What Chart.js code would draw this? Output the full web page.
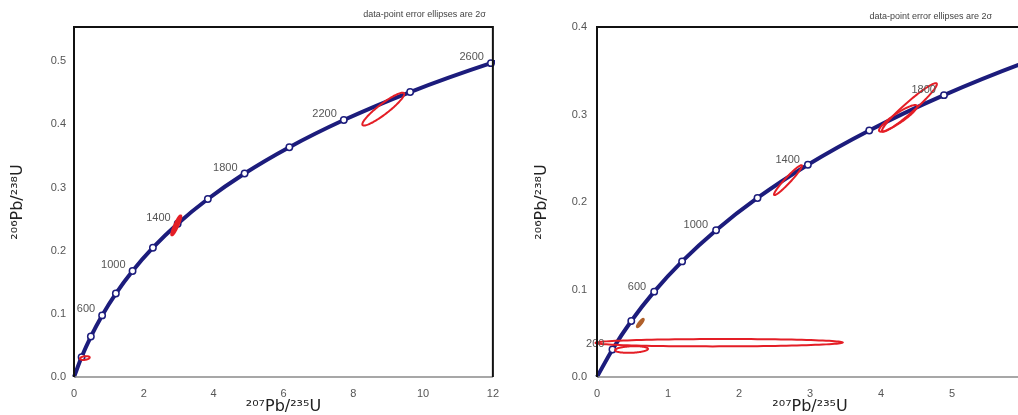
<!DOCTYPE html>
<html><head><meta charset="utf-8">
<script src="https://cdn.jsdelivr.net/npm/chart.js@4.4.1/dist/chart.umd.min.js"></script>
<style>
html,body{margin:0;padding:0;background:#fff;overflow:hidden;width:1018px;height:415px;position:relative;}
#wrapL{position:absolute;left:0;top:0;width:509px;height:415px;}
#wrapR{position:absolute;left:509px;top:0;width:530px;height:415px;}
canvas{display:block;}
</style></head><body>
<div id="wrapL"><canvas id="left" width="509" height="415"></canvas></div>
<div id="wrapR"><canvas id="right" width="530" height="415"></canvas></div>
<script>
// ---- data ----
const concordiaAges = [0, 200, 400, 600, 800, 1000, 1200, 1400, 1600, 1800, 2000, 2200, 2400, 2600, 2800];
const concordiaPb207U235 = [0, 0.2177, 0.4828, 0.8056, 1.1987, 1.6774, 2.2604, 2.9702, 3.8345, 4.8870, 6.1687, 7.7294, 9.6299, 11.944, 14.762];
const concordiaPb206U238 = [0, 0.03151, 0.06402, 0.09754, 0.13213, 0.16780, 0.20459, 0.24257, 0.28172, 0.32213, 0.36376, 0.40675, 0.45108, 0.49680, 0.54400];

const leftAgeLabels = [600, 1000, 1400, 1800, 2200, 2600];
const rightAgeLabels = [200, 600, 1000, 1400, 1800];

const leftXTicks = [0, 2, 4, 6, 8, 10, 12];
const leftYTicks = [0, 0.1, 0.2, 0.3, 0.4, 0.5];
const rightXTicks = [0, 1, 2, 3, 4, 5, 6];
const rightYTicks = [0, 0.1, 0.2, 0.3, 0.4];

// error ellipses: centre, 2-sigma half widths, correlation
const leftEllipseX   = [8.86, 2.93, 0.31];
const leftEllipseY   = [0.424, 0.240, 0.030];
const leftEllipseSX  = [0.60, 0.13, 0.14];
const leftEllipseSY  = [0.026, 0.015, 0.003];
const leftEllipseRho = [0.92, 0.93, 0.3];

const rightEllipseX   = [1.72, 0.486, 0.61, 2.69, 4.40, 4.24];
const rightEllipseY   = [0.0392, 0.0314, 0.0617, 0.225, 0.308, 0.2956];
const rightEllipseSX  = [1.74, 0.232, 0.045, 0.197, 0.387, 0.268];
const rightEllipseSY  = [0.0042, 0.0038, 0.0045, 0.0171, 0.0278, 0.0152];
const rightEllipseRho = [0.05, 0.2, 0.9, 0.96, 0.96, 0.9];

const noteText = 'data-point error ellipses are 2σ';
const xTitle = '²⁰⁷Pb/²³⁵U';
const yTitle = '²⁰⁶Pb/²³⁸U';

// ---- styles ----
const NAVY = '#1c1c7c';
const RED = '#e41e26';
const TICKCOL = '#555';
const FONT = '"Liberation Sans", Arial, sans-serif';
const TFONT = '"DejaVu Sans", sans-serif';

function makeEllipsePlugin(o) {
  return {
    id: 'ellipses',
    afterDatasetsDraw(chart) {
      const {ctx, chartArea} = chart;
      const xs = chart.scales.x, ys = chart.scales.y;
      ctx.save();
      ctx.beginPath();
      ctx.rect(chartArea.left - 14, chartArea.top, chartArea.right - chartArea.left + 14, chartArea.bottom - chartArea.top);
      ctx.clip();
      o.cx.forEach((cx, k) => {
        const cy = o.cy[k], sx = o.sx[k], sy = o.sy[k], rho = o.rho[k];
        const r2 = Math.sqrt(1 - rho * rho);
        ctx.beginPath();
        for (let i = 0; i <= 120; i++) {
          const t = i / 120 * 2 * Math.PI;
          const vx = cx + sx * Math.cos(t);
          const vy = cy + sy * (rho * Math.cos(t) + r2 * Math.sin(t));
          const px = xs.getPixelForValue(vx), py = ys.getPixelForValue(vy);
          if (i === 0) ctx.moveTo(px, py); else ctx.lineTo(px, py);
        }
        ctx.closePath();
        const st = o.styles[k];
        if (st.fill) { ctx.fillStyle = st.fill; ctx.fill(); }
        ctx.lineWidth = st.lw; ctx.strokeStyle = st.stroke; ctx.stroke();
      });
      ctx.restore();
    }
  };
}

function makeAgePlugin(o) {
  return {
    id: 'ageLabels',
    afterDatasetsDraw(chart) {
      const {ctx} = chart;
      const xs = chart.scales.x, ys = chart.scales.y;
      ctx.save();
      ctx.font = '11px ' + FONT;
      ctx.fillStyle = '#555';
      ctx.textAlign = 'right';
      ctx.textBaseline = 'middle';
      o.ages.forEach(a => {
        const i = concordiaAges.indexOf(a);
        const px = xs.getPixelForValue(concordiaPb207U235[i]);
        const py = ys.getPixelForValue(concordiaPb206U238[i]);
        ctx.fillText(String(a), px - o.dx, py - o.dy);
      });
      ctx.restore();
    }
  };
}

function makeFramePlugin(o) {
  return {
    id: 'frame',
    afterDraw(chart) {
      const {ctx, chartArea: a} = chart;
      ctx.save();
      ctx.strokeStyle = '#8a8a8a'; ctx.lineWidth = 1.5;
      ctx.beginPath(); ctx.moveTo(a.left, a.bottom); ctx.lineTo(a.right, a.bottom); ctx.stroke();
      ctx.strokeStyle = '#111'; ctx.lineWidth = 2;
      ctx.beginPath();
      ctx.moveTo(a.left, a.bottom); ctx.lineTo(a.left, a.top); ctx.lineTo(a.right, a.top); ctx.lineTo(a.right, a.bottom);
      ctx.stroke();
      ctx.font = '9px ' + FONT;
      ctx.fillStyle = '#444';
      ctx.textAlign = 'right';
      ctx.textBaseline = 'middle';
      ctx.fillText(noteText, a.right - o.noteDx, o.noteY);
      ctx.restore();
    }
  };
}

function makeChart(id, cfg) {
  const pts = concordiaPb207U235.map((v, i) => ({x: v, y: concordiaPb206U238[i]}));
  return new Chart(document.getElementById(id), {
    type: 'scatter',
    data: {datasets: [{
      data: pts,
      showLine: true,
      borderColor: NAVY,
      borderWidth: 4,
      cubicInterpolationMode: 'monotone',
      pointRadius: pts.map((p, i) => (i === 0 ? 0 : 3.2)),
      pointBackgroundColor: '#fff',
      pointBorderColor: NAVY,
      pointBorderWidth: 1.5,
      pointHoverRadius: 0,
      clip: 2
    }]},
    plugins: [makeEllipsePlugin(cfg.ellipses), makeAgePlugin(cfg.ageLabels), makeFramePlugin(cfg.frame)],
    options: {
      responsive: false,
      animation: false,
      events: [],
      layout: {padding: {top: 27, right: cfg.padRight, left: 0, bottom: 0}},
      plugins: {
        legend: {display: false},
        tooltip: {enabled: false}
      },
      scales: {
        x: {
          type: 'linear', min: 0, max: cfg.xMax,
          grid: {display: false, drawTicks: false}, border: {display: false},
          afterFit: s => { s.height = 38; },
          afterBuildTicks: ax => { ax.ticks = cfg.xTicks.map(v => ({value: v})); },
          ticks: {padding: 10, color: TICKCOL, font: {family: FONT, size: 11}, callback: v => String(v), maxRotation: 0, autoSkip: false},
          title: {display: true, text: xTitle, color: '#222', font: {family: TFONT, size: 16, lineHeight: 1}, padding: {top: 0, bottom: 0}}
        },
        y: {
          type: 'linear', min: 0, max: cfg.yMax,
          grid: {display: false, drawTicks: false}, border: {display: false},
          afterFit: s => { s.width = cfg.yWidth; },
          afterBuildTicks: ax => { ax.ticks = cfg.yTicks.map(v => ({value: v})); },
          ticks: {padding: cfg.yPad, color: TICKCOL, font: {family: FONT, size: 11}, callback: v => Number(v).toFixed(1), autoSkip: false},
          title: {display: true, text: yTitle, color: '#222', font: {family: TFONT, size: 16, lineHeight: 1.2}, padding: {top: cfg.yTitlePad, bottom: 0}}
        }
      }
    }
  });
}

const redStyle = {stroke: RED, lw: 2};
makeChart('left', {
  xMax: 12, yMax: 0.554, padRight: 14, yWidth: 74, yPad: 8, yTitlePad: 8,
  xTicks: leftXTicks, yTicks: leftYTicks,
  ellipses: {cx: leftEllipseX, cy: leftEllipseY, sx: leftEllipseSX, sy: leftEllipseSY, rho: leftEllipseRho,
    styles: [redStyle, {stroke: RED, lw: 3, fill: 'rgba(228,30,38,0.75)'}, redStyle]},
  ageLabels: {ages: leftAgeLabels, dx: 7, dy: 6},
  frame: {noteDx: 7, noteY: 15}
});
makeChart('right', {
  xMax: 6, yMax: 0.4, padRight: 16, yWidth: 88, yPad: 10, yTitlePad: 23,
  xTicks: rightXTicks, yTicks: rightYTicks,
  ellipses: {cx: rightEllipseX, cy: rightEllipseY, sx: rightEllipseSX, sy: rightEllipseSY, rho: rightEllipseRho,
    styles: [redStyle, redStyle, {stroke: '#b0602a', lw: 2.5, fill: '#c8843a'}, redStyle, redStyle, redStyle]},
  ageLabels: {ages: rightAgeLabels, dx: 8, dy: 5},
  frame: {noteDx: 31, noteY: 17}
});
</script>
</body></html>
